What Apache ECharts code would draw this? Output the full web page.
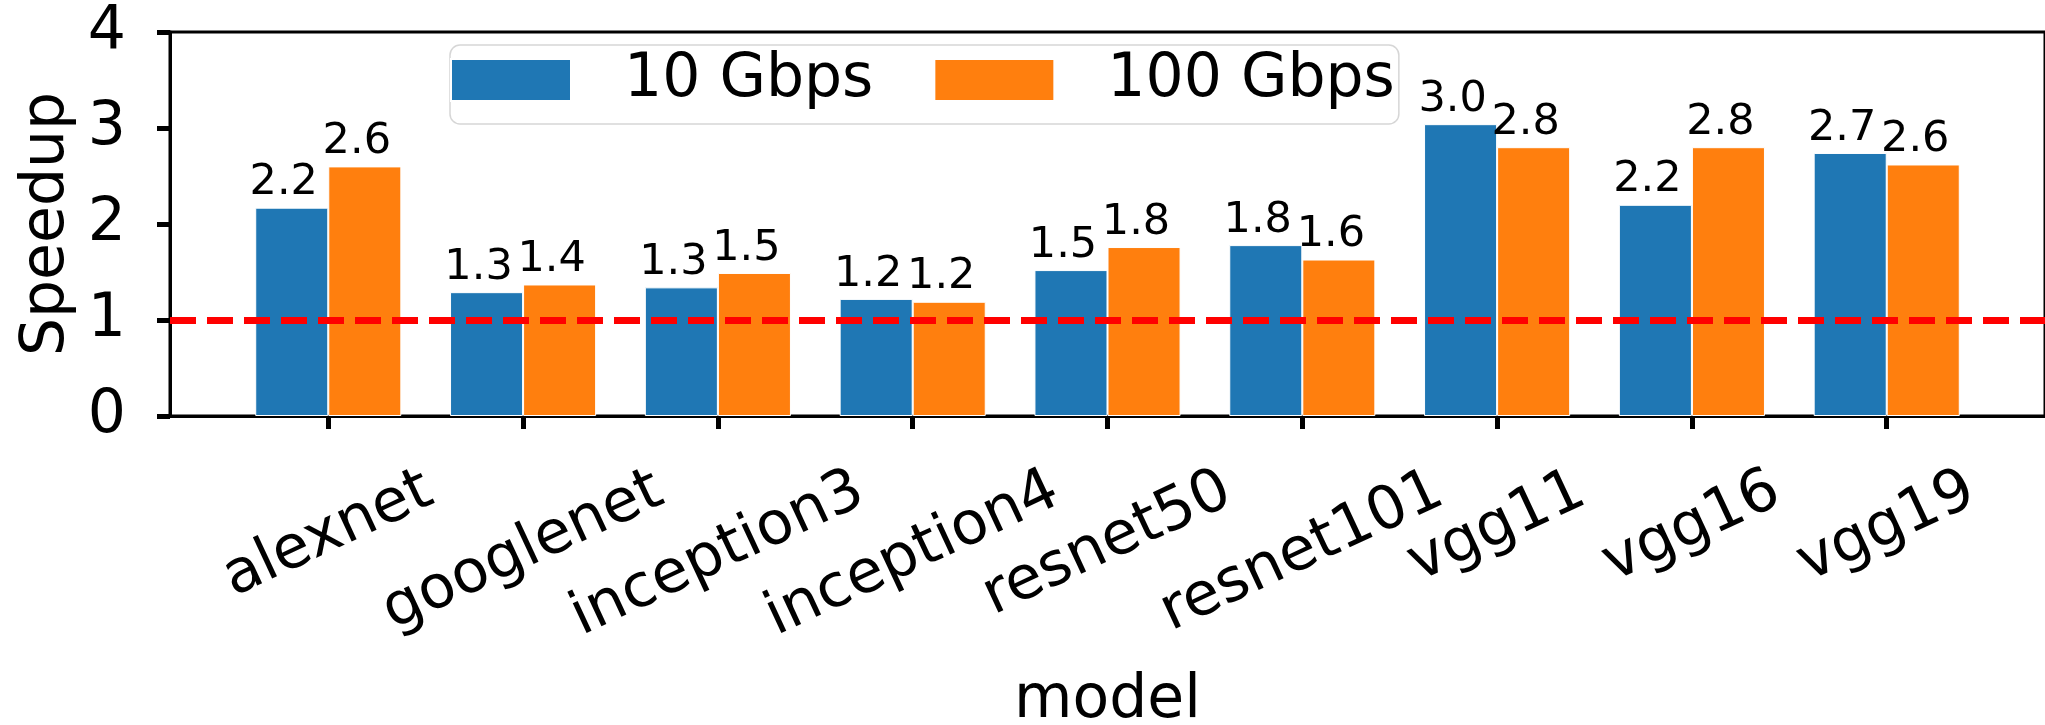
<!DOCTYPE html>
<html><head><meta charset="utf-8">
<script src="https://cdn.jsdelivr.net/npm/echarts@6/dist/echarts.min.js"></script>
<style>html,body{margin:0;padding:0;background:#fff}#c{width:2045px;height:725px}</style>
</head><body><div id="c"></div>
<script>
// ---- data ----
const categories = ['alexnet','googlenet','inception3','inception4','resnet50','resnet101','vgg11','vgg16','vgg19'];
const seriesNames = ['10 Gbps','100 Gbps'];
const speedup10  = [2.17, 1.29, 1.34, 1.22, 1.52, 1.78, 3.04, 2.20, 2.74];
const speedup100 = [2.60, 1.37, 1.49, 1.19, 1.76, 1.63, 2.80, 2.80, 2.62];
const yMin = 0, yMax = 4, yStep = 1;
const baselineValue = 1;
const xAxisName = 'model', yAxisName = 'Speedup';

// ---- style ----
const FF = '"DejaVu Sans", sans-serif';
const FONT = 60, ROT = 25, th = ROT * Math.PI / 180;
const ctx = document.createElement('canvas').getContext('2d');
ctx.font = FONT + 'px "DejaVu Sans"';
const rich = {};
categories.forEach((c, i) => {
  const L = ctx.measureText(c).width;
  rich['c' + i] = {
    fontSize: FONT, fontFamily: FF, color: '#000',
    padding: [L * Math.sin(th) * Math.cos(th), L * Math.sin(th) * Math.sin(th), 0, 0]
  };
});
const catIdx = categories.map((c, i) => i);

const chart = echarts.init(document.getElementById('c'), null, {renderer: 'canvas'});
const barLabel = {
  show: true, position: 'top', distance: 3, offset: [-8, 0],
  fontSize: 43, fontFamily: FF, color: '#000',
  formatter: p => p.value[1].toFixed(1)
};
chart.setOption({
  animation: false,
  backgroundColor: '#fff',
  grid: {
    left: 170, right: 0, top: 32, bottom: 309,
    show: true, borderColor: '#000', borderWidth: 3, backgroundColor: 'transparent',
    containLabel: false, outerBoundsMode: 'none'
  },
  legend: {
    left: 450, top: 45, orient: 'horizontal',
    itemWidth: 120, itemHeight: 42, itemGap: 60,
    padding: [5, 4, 14, 0],
    backgroundColor: 'rgba(255,255,255,0.8)', borderColor: '#d6d6d6', borderWidth: 1.5, borderRadius: 10,
    icon: 'rect',
    textStyle: {fontSize: FONT, fontFamily: FF, color: '#000', padding: [0, 0, 0, 48], lineHeight: 42},
    data: seriesNames
  },
  xAxis: {
    type: 'value', min: -0.8125, max: categories.length - 1 + 0.8125,
    name: xAxisName, nameLocation: 'middle', nameGap: 255, nameMoveOverlap: false,
    nameTextStyle: {fontSize: FONT, fontFamily: FF, color: '#000'},
    splitLine: {show: false},
    axisLine: {show: true, onZero: false, lineStyle: {color: '#000', width: 3}},
    axisTick: {show: true, length: 13, lineStyle: {color: '#000', width: 5}, customValues: catIdx},
    axisLabel: {
      customValues: catIdx, rotate: ROT, align: 'center', verticalAlign: 'middle', margin: 72,
      fontSize: FONT, fontFamily: FF, color: '#000', hideOverlap: false,
      formatter: v => categories[v] !== undefined ? '{c' + v + '|' + categories[v] + '}' : '',
      rich: rich
    }
  },
  yAxis: {
    type: 'value', min: yMin, max: yMax, interval: yStep,
    name: yAxisName, nameLocation: 'middle', nameGap: 93, nameMoveOverlap: false,
    nameTextStyle: {fontSize: FONT, fontFamily: FF, color: '#000'},
    splitLine: {show: false},
    axisLine: {show: true, onZero: false, lineStyle: {color: '#000', width: 3}},
    axisTick: {show: true, length: 13, lineStyle: {color: '#000', width: 5}},
    axisLabel: {fontSize: FONT, fontFamily: FF, color: '#000', margin: 44}
  },
  series: [
    {
      name: seriesNames[0], type: 'bar', barWidth: '37.5%', barGap: '0%',
      itemStyle: {color: '#1f77b4', borderColor: '#fff', borderWidth: 1},
      label: barLabel,
      data: speedup10.map((v, i) => [i, v])
    },
    {
      name: seriesNames[1], type: 'bar', barWidth: '37.5%', barGap: '0%',
      itemStyle: {color: '#ff7f0e', borderColor: '#fff', borderWidth: 1},
      label: barLabel,
      data: speedup100.map((v, i) => [i, v]),
      markLine: {
        silent: true, z: 10, symbol: ['none', 'none'], label: {show: false},
        lineStyle: {color: '#ff0000', width: 7, type: [26, 11]},
        data: [{yAxis: baselineValue}]
      }
    }
  ]
});
</script></body></html>
